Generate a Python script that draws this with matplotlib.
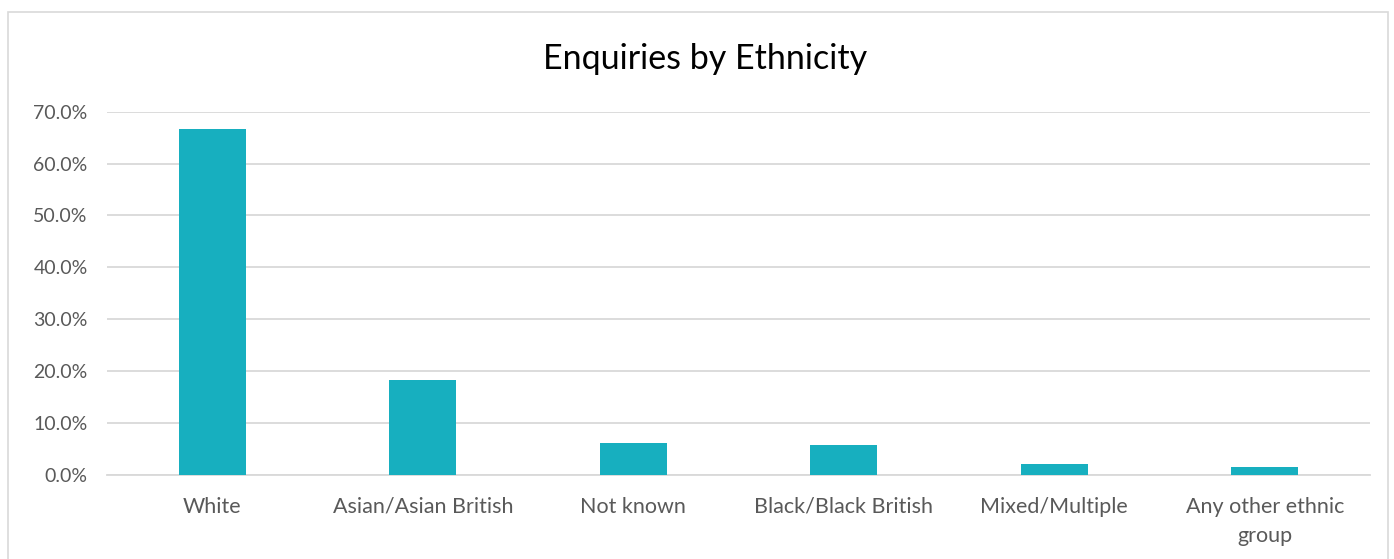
import matplotlib.pyplot as plt
from matplotlib.patches import Rectangle
from matplotlib.ticker import FuncFormatter

categories = ["White", "Asian/Asian British", "Not known", "Black/Black British",
              "Mixed/Multiple", "Any other ethnic\ngroup"]
share = [66.7, 18.3, 6.1, 5.8, 2.0, 1.5]
yticks = [0, 10, 20, 30, 40, 50, 60, 70]

plt.rcParams['font.family'] = ['Lato', 'DejaVu Sans']

fig = plt.figure(figsize=(13.94, 5.59), dpi=100)
ax = fig.add_axes([0.0768, 0.151, 0.906, 0.649])

x = range(len(categories))
ax.bar(x, share, width=0.32, color="#17AFBF", zorder=3)

ax.set_ylim(0, 70)
ax.set_xlim(-0.5, len(categories) - 0.5)
ax.set_yticks(yticks)
ax.yaxis.set_major_formatter(FuncFormatter(lambda v, p: f"{v:.1f}%"))
ax.grid(axis="y", color="#d9d9d9", linewidth=1.3, zorder=0)
ax.set_xticks(list(x))
ax.set_xticklabels(categories, fontsize=15.5, color="#595959", linespacing=1.55)
ax.tick_params(axis="y", labelsize=14, labelcolor="#595959", length=0, pad=14)
ax.tick_params(axis="x", length=0, pad=16)
for s in ["top", "right", "left"]:
    ax.spines[s].set_visible(False)
ax.spines["bottom"].set_color("#d9d9d9")
ax.spines["bottom"].set_linewidth(1.3)

fig.text(0.506, 0.895, "Enquiries by Ethnicity", ha="center", va="center", fontsize=24.5, color="#000000")

fig.patches.append(Rectangle((0.006, -0.01), 0.99, 0.988, transform=fig.transFigure,
                             fill=False, edgecolor="#d9d9d9", linewidth=1.2))

fig.savefig("out.png", dpi=100)
